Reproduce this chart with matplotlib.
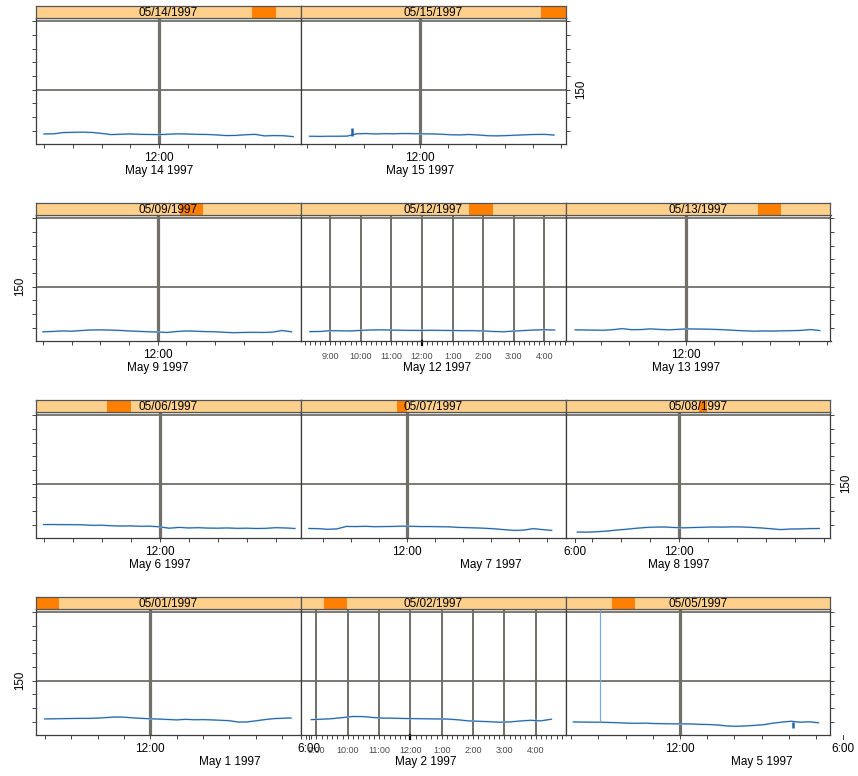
import numpy as np
import matplotlib
matplotlib.use("Agg")
import matplotlib.pyplot as plt
from matplotlib.patches import Rectangle

plt.rcParams['font.family'] = ['Liberation Sans', 'DejaVu Sans']

# ---------------- data ----------------
strip_dates = ["05/14/1997", "05/15/1997",
               "05/09/1997", "05/12/1997", "05/13/1997",
               "05/06/1997", "05/07/1997", "05/08/1997",
               "05/01/1997", "05/02/1997", "05/05/1997"]
axis_dates = ["May 14 1997", "May 15 1997",
              "May 9 1997", "May 12 1997", "May 13 1997",
              "May 6 1997", "May 7 1997", "May 8 1997",
              "May 1 1997", "May 2 1997", "May 5 1997"]
# highlighted level span in each strip (fraction of strip width)
strip_level = [(0.817, 0.908), (0.909, 1.0),
               (0.545, 0.632), (0.636, 0.725), (0.725, 0.815),
               (0.270, 0.360), (0.364, 0.402), (0.504, 0.534),
               (0.0, 0.087), (0.087, 0.177), (0.175, 0.264)]
# x range of each panel, hours of the day
x_range = [(7.70, 16.92), (7.76, 17.16),
           (7.74, 16.98), (8.03, 16.69), (7.74, 17.13),
           (7.72, 16.86), (8.20, 17.66), (8.09, 17.22),
           (7.65, 17.69), (8.49, 16.95), (7.79, 17.53)]
# first sample time (hours) of each series, samples every 20 minutes
series_start = [8.0, 8 + 5/60,
                8.0, 8 + 20/60, 8 + 5/60,
                8.0, 8.5, 8.5,
                8.0, 8 + 50/60, 8 + 5/60]
sample_minutes = 20

may14 = [117.6, 117.7, 118.6, 118.8, 118.9, 118.7, 118.0, 117.1, 117.4, 117.6, 117.3, 117.2, 117.1, 117.4,
         117.7, 117.5, 117.3, 117.2, 116.9, 116.4, 116.5, 117.0, 117.3, 116.2, 116.4, 116.3, 115.6]
may15 = [115.9, 115.8, 115.9, 115.9, 116.0, 117.7, 117.9, 117.6, 117.8, 117.7, 117.9, 117.8, 117.7, 117.6,
         117.4, 117.0, 116.9, 117.2, 116.8, 116.3, 116.2, 116.4, 116.7, 117.0, 117.2, 117.3, 116.8]
may09 = [117.0, 117.2, 117.6, 117.4, 117.9, 118.3, 118.4, 118.2, 118.0, 117.6, 117.3, 117.0, 116.8, 116.5,
         117.2, 117.6, 117.4, 117.1, 117.0, 116.6, 116.3, 116.5, 116.6, 116.5, 116.7, 117.9, 117.0]
may12 = [117.1, 117.2, 117.8, 117.7, 117.6, 118.0, 118.3, 118.4, 118.2, 118.1, 118.0, 118.0, 118.1, 118.0,
         117.9, 117.8, 117.8, 117.6, 117.2, 117.0, 117.5, 117.9, 118.3, 118.5, 118.3]
may13 = [118.4, 118.3, 118.2, 118.1, 118.5, 119.3, 118.5, 118.6, 119.1, 118.7, 118.4, 118.8, 119.1, 119.0,
         118.9, 118.7, 118.4, 118.0, 117.7, 117.4, 117.6, 117.5, 117.7, 117.8, 118.0, 118.6, 117.9]
may06 = [120.1, 120.1, 120.0, 120.0, 119.9, 119.5, 119.6, 119.2, 119.0, 119.1, 118.8, 118.9, 118.4, 117.4,
         118.0, 117.6, 117.8, 117.5, 117.4, 117.6, 117.3, 117.4, 117.2, 117.3, 117.8, 117.6, 117.2]
may07 = [117.2, 117.1, 116.6, 116.9, 118.7, 118.6, 118.8, 118.5, 118.6, 118.7, 118.9, 118.8, 118.6, 118.6,
         118.5, 118.4, 118.0, 117.8, 117.6, 117.3, 116.9, 116.3, 115.8, 116.0, 117.1, 116.4, 115.8]
may08 = [114.6, 114.5, 114.8, 115.3, 116.0, 116.6, 117.3, 117.9, 118.2, 118.3, 117.9, 117.7, 117.9, 118.1,
         118.3, 118.2, 118.4, 118.3, 118.0, 117.6, 117.0, 116.4, 116.8, 116.9, 117.1, 117.2]
may01 = [122.0, 122.1, 122.2, 122.3, 122.4, 122.4, 122.6, 123.0, 123.4, 123.3, 122.8, 122.4, 122.1, 121.9,
         121.6, 121.3, 121.7, 121.4, 121.5, 121.3, 121.0, 120.7, 119.7, 119.8, 120.6, 121.5, 122.2, 122.5, 122.7]
may02 = [121.5, 121.8, 122.2, 123.0, 123.8, 123.7, 123.0, 122.6, 122.5, 122.3, 122.2, 122.1, 122.0, 121.9,
         121.4, 120.6, 120.3, 120.0, 119.6, 119.8, 120.5, 121.0, 120.6, 121.8]
may05 = [119.8, 119.7, 119.6, 119.6, 119.4, 119.2, 118.9, 118.8, 118.9, 118.6, 118.5, 118.4, 118.4, 118.3,
         118.0, 117.9, 117.5, 116.8, 116.6, 116.9, 117.3, 117.8, 118.9, 119.7, 120.3, 119.6, 119.9, 119.2]
series_values = [may14, may15, may09, may12, may13, may06, may07, may08, may01, may02, may05]

# isolated spikes: (panel index, hour, from value, to value, kind)
spikes = [(1, 9.59, 115.9, 122.3, "dark"),
          (10, 9.04, 119.6, 260.0, "light"),
          (10, 16.17, 119.8, 115.5, "dark")]

y_range = (110.6, 202.5)
y_ticks = [120, 130, 140, 150, 160, 170, 180, 190, 200]
y_grid = [150, 200]
y_label_value = 150

# major labels: hour, text ; which panels use hourly labels
hourly_hours = [9, 10, 11, 12, 13, 14, 15, 16]
hourly_text = ["9:00", "10:00", "11:00", "12:00", "1:00", "2:00", "3:00", "4:00"]
hourly_panels = [3, 9]
evening_panels = [6, 8, 10]          # panels whose "6:00" (18:00) label is drawn
date_label_hour = [12, 12, 12, 12.5, 12, 12, 15, 12, 15, 12.5, 15]

# ---------------- layout ----------------
W, H, DPI = 858, 776, 100
fig = plt.figure(figsize=(W / DPI, H / DPI), dpi=DPI)
fig.patch.set_facecolor("white")

COLS_X = [35.5, 300.5, 565.5]
ROW_TOP = [18, 215, 412, 609]
PW, PH, SH = 265, 125.5, 12
grid_of_panel = [(0, 0), (0, 1),
                 (1, 0), (1, 1), (1, 2),
                 (2, 0), (2, 1), (2, 2),
                 (3, 0), (3, 1), (3, 2)]
row_last_col = [1, 2, 2, 2]
ylabel_side = ["right", "left", "right", "left"]

GRID_C = "#707068"
FRAME_C = "#3c3c3c"
LIGHT_BLUE = "#b3cfe3"
DARK_BLUE = "#2063aa"
PEACH = "#FFD08C"
ORANGE = "#FF7F00"
FS = 8.5


def rect(x0, ytop, w, h):
    return [x0 / W, 1 - (ytop + h) / H, w / W, h / H]


for i, (r, c) in enumerate(grid_of_panel):
    x0, top = COLS_X[c], ROW_TOP[r]
    ax = fig.add_axes(rect(x0, top, PW, PH))
    ax.set_xlim(*x_range[i])
    ax.set_ylim(*y_range)
    for s in ax.spines.values():
        s.set_color(FRAME_C)
        s.set_linewidth(0.9)

    # grid
    for gy in y_grid:
        ax.axhline(gy, color=GRID_C, lw=1.3, zorder=1)
    if i in hourly_panels:
        for h in hourly_hours:
            ax.axvline(h, color=GRID_C, lw=1.4, zorder=1)
    else:
        ax.axvline(12, color=GRID_C, lw=2.3, zorder=1)

    # series
    vals = np.array(series_values[i])
    hrs = series_start[i] + np.arange(len(vals)) * sample_minutes / 60.0
    ax.plot(hrs, vals, color=LIGHT_BLUE, lw=1.3, zorder=2)
    ax.plot(hrs, vals, color=DARK_BLUE, lw=0.75, zorder=3)
    for (pi, hh, v0, v1, kind) in spikes:
        if pi == i:
            if kind == "light":
                ax.vlines(hh, v0, v1, color="#7aaad2", lw=0.9, zorder=3)
            else:
                ax.vlines(hh, v0, v1, color=DARK_BLUE, lw=1.8, zorder=3)

    # x ticks
    lo, hi = x_range[i]
    if i in hourly_panels:
        minor = np.arange(np.ceil(lo * 6) / 6, hi, 1 / 6)
        ax.set_xticks(minor)
        ax.tick_params(axis="x", direction="out", length=3, width=0.7, colors="#444444",
                       labelbottom=False, top=False)
        ax.plot([12, 12], [0, -0.035], transform=ax.get_xaxis_transform(),
                color="black", lw=1.6, clip_on=False)
        for h, t in zip(hourly_hours, hourly_text):
            ax.annotate(t, xy=(h, 0), xycoords=ax.get_xaxis_transform(),
                        xytext=(0, -11.5), textcoords="offset points",
                        ha="center", va="center", fontsize=6.5, color="#4a4a4a",
                        annotation_clip=False)
    else:
        ax.set_xticks(np.arange(np.ceil(lo), hi + 1e-9, 1.0))
        ax.tick_params(axis="x", direction="out", length=3, width=0.7, colors="#444444",
                       labelbottom=False, top=False)
        ax.annotate("12:00", xy=(12, 0), xycoords=ax.get_xaxis_transform(),
                    xytext=(0, -10.4), textcoords="offset points",
                    ha="center", va="center", fontsize=FS, annotation_clip=False)
        if i in evening_panels:
            ax.plot([18, 18], [-0.005, -0.035], transform=ax.get_xaxis_transform(),
                    color="#444444", lw=0.7, clip_on=False)
            ax.annotate("6:00", xy=(18, 0), xycoords=ax.get_xaxis_transform(),
                        xytext=(0, -10.4), textcoords="offset points",
                        ha="center", va="center", fontsize=FS, annotation_clip=False)
    ax.annotate(axis_dates[i], xy=(date_label_hour[i], 0), xycoords=ax.get_xaxis_transform(),
                xytext=(0, -19.8), textcoords="offset points",
                ha="center", va="center", fontsize=FS, annotation_clip=False)

    # y ticks
    ax.set_yticks(y_ticks)
    ax.tick_params(axis="y", direction="out", length=3, width=0.7, colors="#444444",
                   left=(c == 0), right=(c == row_last_col[r]),
                   labelleft=False, labelright=False)
    if c == 0 and ylabel_side[r] == "left":
        ax.annotate(str(y_label_value), xy=(0, y_label_value), xycoords=ax.get_yaxis_transform(),
                    xytext=(-11.2, 0), textcoords="offset points", rotation=90,
                    ha="center", va="center", fontsize=8.3, annotation_clip=False)
    if c == row_last_col[r] and ylabel_side[r] == "right":
        ax.annotate(str(y_label_value), xy=(1, y_label_value), xycoords=ax.get_yaxis_transform(),
                    xytext=(11.5, 0), textcoords="offset points", rotation=90,
                    ha="center", va="center", fontsize=8.3, annotation_clip=False)

    # strip
    sax = fig.add_axes(rect(x0, top - SH, PW, SH))
    sax.set_xlim(0, 1)
    sax.set_ylim(0, 1)
    sax.set_xticks([])
    sax.set_yticks([])
    sax.add_patch(Rectangle((0, 0), 1, 1, facecolor=PEACH, edgecolor="none", zorder=0))
    a, b = strip_level[i]
    sax.add_patch(Rectangle((a, 0), b - a, 1, facecolor=ORANGE, edgecolor="none", zorder=1))
    sax.text(0.5, 0.42, strip_dates[i], ha="center", va="center", fontsize=FS, zorder=2)
    for s in sax.spines.values():
        s.set_color("#555555")
        s.set_linewidth(0.9)

fig.savefig("out.png", dpi=DPI, facecolor="white")
